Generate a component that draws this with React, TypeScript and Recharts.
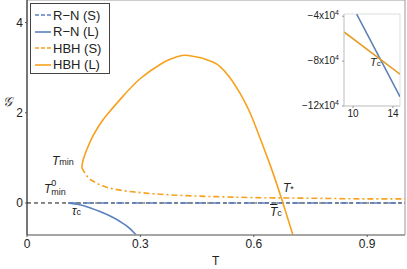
import React from "react";
import { LineChart, Line, XAxis, YAxis, ReferenceLine, ReferenceArea } from "recharts";

// main panel: G(T) branches
const hbhLarge = [
  { t: 0.145, g: 0.78 }, { t: 0.147, g: 0.9 }, { t: 0.151, g: 1.02 }, { t: 0.158, g: 1.18 },
  { t: 0.17, g: 1.41 }, { t: 0.185, g: 1.64 }, { t: 0.2, g: 1.83 }, { t: 0.211, g: 1.95 },
  { t: 0.25, g: 2.33 }, { t: 0.3, g: 2.76 }, { t: 0.35, g: 3.06 }, { t: 0.38, g: 3.19 },
  { t: 0.41, g: 3.27 }, { t: 0.43, g: 3.265 }, { t: 0.46, g: 3.22 }, { t: 0.49, g: 3.13 },
  { t: 0.51, g: 3.03 }, { t: 0.535, g: 2.8 }, { t: 0.563, g: 2.44 }, { t: 0.59, g: 2.0 },
  { t: 0.616, g: 1.45 }, { t: 0.645, g: 0.8 }, { t: 0.674, g: 0.08 }, { t: 0.705, g: -0.75 },
];
const hbhSmall = [
  { t: 0.145, g: 0.78 }, { t: 0.16, g: 0.58 }, { t: 0.18, g: 0.46 }, { t: 0.2, g: 0.38 },
  { t: 0.25, g: 0.28 }, { t: 0.3, g: 0.23 }, { t: 0.4, g: 0.17 }, { t: 0.5, g: 0.14 },
  { t: 0.6, g: 0.12 }, { t: 0.7, g: 0.11 }, { t: 0.8, g: 0.1 }, { t: 0.9, g: 0.09 }, { t: 1.0, g: 0.09 },
];
const rnSmall = [{ t: 0.109, g: 0 }, { t: 1.0, g: 0 }];
const rnLarge = [
  { t: 0.109, g: 0 }, { t: 0.15, g: -0.06 }, { t: 0.193, g: -0.19 }, { t: 0.22, g: -0.29 },
  { t: 0.246, g: -0.41 }, { t: 0.27, g: -0.55 }, { t: 0.29, g: -0.72 },
];
const xTicks = [0, 0.3, 0.6, 0.9];
const yTicks = [0, 2, 4];

// inset: large-T behaviour
const insetRn = [{ t: 10.37, g: -38200 }, { t: 14.7, g: -111700 }];
const insetHbh = [{ t: 9.1, g: -54000 }, { t: 14.7, g: -91600 }];
const insetXTicks = [10, 14];
const insetYTicks = [-120000, -80000, -40000];

const legendItems = [
  { name: "R\u2212N (S)", color: "#5b80c0", dash: "4 2" },
  { name: "R\u2212N (L)", color: "#5b80c0", dash: "" },
  { name: "HBH (S)", color: "#f7a11e", dash: "4 2" },
  { name: "HBH (L)", color: "#f7a11e", dash: "" },
];

const BLUE = "#5b80c0";
const ORANGE = "#f7a11e";
const font = "'Liberation Sans', Arial, sans-serif";

function InsetTick(props: any) {
  const { x, y, payload } = props;
  const mant = Math.round(payload.value / 10000);
  return (
    <text x={x - 1} y={y + 3} textAnchor="end" fontSize={10} fill="#222" fontFamily={font}>
      {"\u2212" + Math.abs(mant) + "x10"}
      <tspan dy={-4} fontSize={7}>4</tspan>
    </text>
  );
}

const ann: React.CSSProperties = { position: "absolute", fontFamily: font, fontStyle: "italic", fontSize: 12, color: "#222", lineHeight: 1 };
const sub: React.CSSProperties = { fontSize: 9, fontStyle: "normal" };

export default function App() {
  return (
    <div style={{ position: "absolute", left: 0, top: 0, width: 407, height: 269, background: "#fff" }}>
      <LineChart width={407} height={269} margin={{ top: 0, right: 2, left: 0, bottom: 0 }}>
        <XAxis
          dataKey="t"
          type="number"
          domain={[0, 1]}
          ticks={xTicks}
          allowDataOverflow
          height={34}
          tickSize={2}
          tick={{ fontSize: 12, fill: "#222", fontFamily: font }}
          axisLine={{ stroke: "#999", strokeWidth: 1.5 }}
          tickLine={{ stroke: "#555" }}
        />
        <YAxis
          type="number"
          domain={[-0.71, 4.5]}
          ticks={yTicks}
          allowDataOverflow
          width={27}
          tickSize={2}
          tick={{ fontSize: 12, fill: "#222", fontFamily: font }}
          axisLine={{ stroke: "#222" }}
          tickLine={{ stroke: "#555" }}
        />
        <ReferenceArea x1={0} x2={1} y1={-0.71} y2={4.5} fill="none" stroke="#999" strokeWidth={1} />
        <ReferenceLine y={0} stroke="#111" strokeDasharray="4 3" strokeWidth={1} />
        <Line data={rnSmall} dataKey="g" type="linear" stroke={BLUE} strokeWidth={1.6} strokeDasharray="8 3 2 3" dot={false} isAnimationActive={false} />
        <Line data={rnLarge} dataKey="g" type="monotone" stroke={BLUE} strokeWidth={1.6} dot={false} isAnimationActive={false} />
        <Line data={hbhSmall} dataKey="g" type="monotone" stroke={ORANGE} strokeWidth={1.6} strokeDasharray="6 3 2 3" dot={false} isAnimationActive={false} />
        <Line data={hbhLarge} dataKey="g" type="natural" stroke={ORANGE} strokeWidth={1.6} dot={false} isAnimationActive={false} />
      </LineChart>

      {/* legend */}
      <div style={{ position: "absolute", left: 30, top: 3, width: 80, height: 71, border: "1px solid #444", background: "#fff", boxSizing: "border-box", fontFamily: font, fontSize: 13, color: "#222" }}>
        {legendItems.map((it, i) => (
          <div key={it.name} style={{ position: "absolute", left: 3, top: 3 + i * 16.5, height: 16, display: "flex", alignItems: "center", whiteSpace: "nowrap" }}>
            <svg width={18} height={10}>
              <line x1={1} y1={5} x2={17} y2={5} stroke={it.color} strokeWidth={1.6} strokeDasharray={it.dash} />
            </svg>
            <span style={{ marginLeft: 1 }}>{it.name}</span>
          </div>
        ))}
      </div>

      {/* annotations */}
      <div style={{ ...ann, left: 52, top: 155 }}>T<span style={sub}>min</span></div>
      <div style={{ ...ann, left: 44, top: 183 }}>
        T
        <span style={{ display: "inline-block", verticalAlign: "top", fontSize: 9, fontStyle: "normal", lineHeight: "9px", marginTop: -4 }}>
          0<br />min
        </span>
      </div>
      <div style={{ ...ann, left: 72, top: 205 }}>{"\u03c4"}<span style={sub}>c</span></div>
      <div style={{ ...ann, left: 283, top: 182 }}>T<span style={sub}>*</span></div>
      <div style={{ ...ann, left: 270, top: 206 }}><span style={{ textDecoration: "overline" }}>T</span><span style={sub}>c</span></div>
      <div style={{ ...ann, left: 3, top: 95, fontSize: 13 }}>{"\ud835\udca2"}</div>
      <div style={{ ...ann, left: 212, top: 255, fontStyle: "normal", fontSize: 12 }}>T</div>

      {/* inset */}
      <div style={{ position: "absolute", left: 290, top: 0 }}>
        <LineChart width={115} height={123} margin={{ top: 14, right: 5, left: 0, bottom: 0 }}>
          <XAxis
            dataKey="t"
            type="number"
            domain={[9.1, 14.7]}
            ticks={insetXTicks}
            allowDataOverflow
            height={17}
            tickSize={2}
            tick={{ fontSize: 10, fill: "#222", fontFamily: font }}
            axisLine={{ stroke: "#ccc" }}
            tickLine={{ stroke: "#999" }}
          />
          <YAxis
            type="number"
            domain={[-120000, -38000]}
            ticks={insetYTicks}
            allowDataOverflow
            width={54}
            tickSize={2}
            tick={<InsetTick />}
            axisLine={{ stroke: "#ccc" }}
            tickLine={{ stroke: "#999" }}
          />
          <ReferenceArea x1={9.1} x2={14.7} y1={-120000} y2={-38000} fill="none" stroke="#ddd" />
          <Line data={insetRn} dataKey="g" type="linear" stroke="#5e81b5" strokeWidth={1.6} dot={false} isAnimationActive={false} />
          <Line data={insetHbh} dataKey="g" type="linear" stroke="#e19c24" strokeWidth={1.6} dot={false} isAnimationActive={false} />
        </LineChart>
        <div style={{ ...ann, left: 80, top: 57, fontSize: 11 }}>T<span style={{ ...sub, fontSize: 8 }}>c</span></div>
      </div>
    </div>
  );
}
